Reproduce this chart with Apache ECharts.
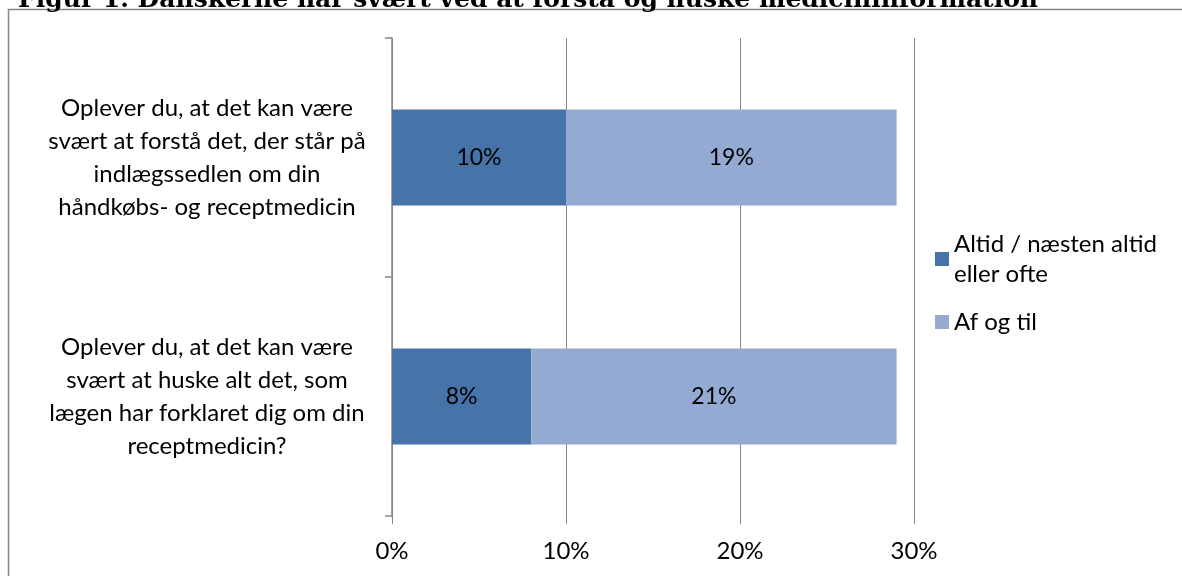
<!DOCTYPE html>
<html>
<head>
<meta charset="utf-8">
<script src="https://cdn.jsdelivr.net/npm/echarts@6/dist/echarts.min.js"></script>
<style>
html,body{margin:0;padding:0;background:#fff;}
#main{width:1182px;height:576px;}
</style>
</head>
<body>
<div id="main"></div>
<script>
const titleText = "Figur 1. Danskerne har svært ved at forstå og huske medicininformation";
const categories = [
  "Oplever du, at det kan være\nsvært at forstå det, der står på\nindlægssedlen om din\nhåndkøbs- og receptmedicin",
  "Oplever du, at det kan være\nsvært at huske alt det, som\nlægen har forklaret dig om din\nreceptmedicin?"
];
const seriesNames = ["Altid / næsten altid\neller ofte", "Af og til"];
const altidValues = [10, 8];
const afOgTilValues = [19, 21];
const xTicks = [0, 10, 20, 30];

const chart = echarts.init(document.getElementById('main'), null, {renderer: 'canvas'});
const font = "Lato";
const fs = 24;
const option = {
  backgroundColor: '#fff',
  animation: false,
  grid: {left: 392, right: 268, top: 38, bottom: 60, containLabel: false},
  legend: {
    orient: 'vertical',
    left: 930,
    top: 224,
    itemWidth: 14,
    itemHeight: 14,
    itemGap: 18,
    icon: 'rect',
    data: seriesNames,
    textStyle: {fontFamily: font, fontSize: fs, color: '#000', lineHeight: 30}
  },
  xAxis: {
    type: 'value',
    min: xTicks[0], max: xTicks[xTicks.length - 1], interval: 10,
    axisLine: {show: false},
    axisTick: {show: true, length: 8, lineStyle: {color: '#868686', width: 1}},
    splitLine: {show: true, lineStyle: {color: '#868686', width: 1}},
    axisLabel: {formatter: v => v + '%', fontFamily: font, fontSize: fs, color: '#000', margin: 23}
  },
  yAxis: {
    type: 'category',
    inverse: true,
    data: categories,
    axisLine: {show: true, lineStyle: {color: '#868686', width: 1.5}},
    axisTick: {show: true, length: 7, lineStyle: {color: '#868686', width: 1.5}},
    axisLabel: {align: 'center', margin: 185, fontFamily: font, fontSize: fs, color: '#000', lineHeight: 33}
  },
  series: [
    {
      name: seriesNames[0], type: 'bar', stack: 's', barWidth: 96,
      data: altidValues,
      itemStyle: {color: '#4673A8'},
      label: {show: true, position: 'inside', formatter: p => p.value + '%', fontFamily: font, fontSize: 23, color: '#000'}
    },
    {
      name: seriesNames[1], type: 'bar', stack: 's', barWidth: 96,
      data: afOgTilValues,
      itemStyle: {color: '#95AAD2'},
      label: {show: true, position: 'inside', formatter: p => p.value + '%', fontFamily: font, fontSize: 23, color: '#000'}
    }
  ],
  graphic: [
    {type: 'rect', shape: {x: 8.5, y: 9.5, width: 1200, height: 600}, style: {fill: 'none', stroke: '#868686', lineWidth: 1.5}, silent: true, z: -1},
    {type: 'text', x: 18, y: 13, style: {text: titleText, font: 'bold 25px "DejaVu Serif"', fill: '#000', textVerticalAlign: 'bottom'}, z: 10}
  ]
};
chart.setOption(option);
</script>
</body>
</html>
